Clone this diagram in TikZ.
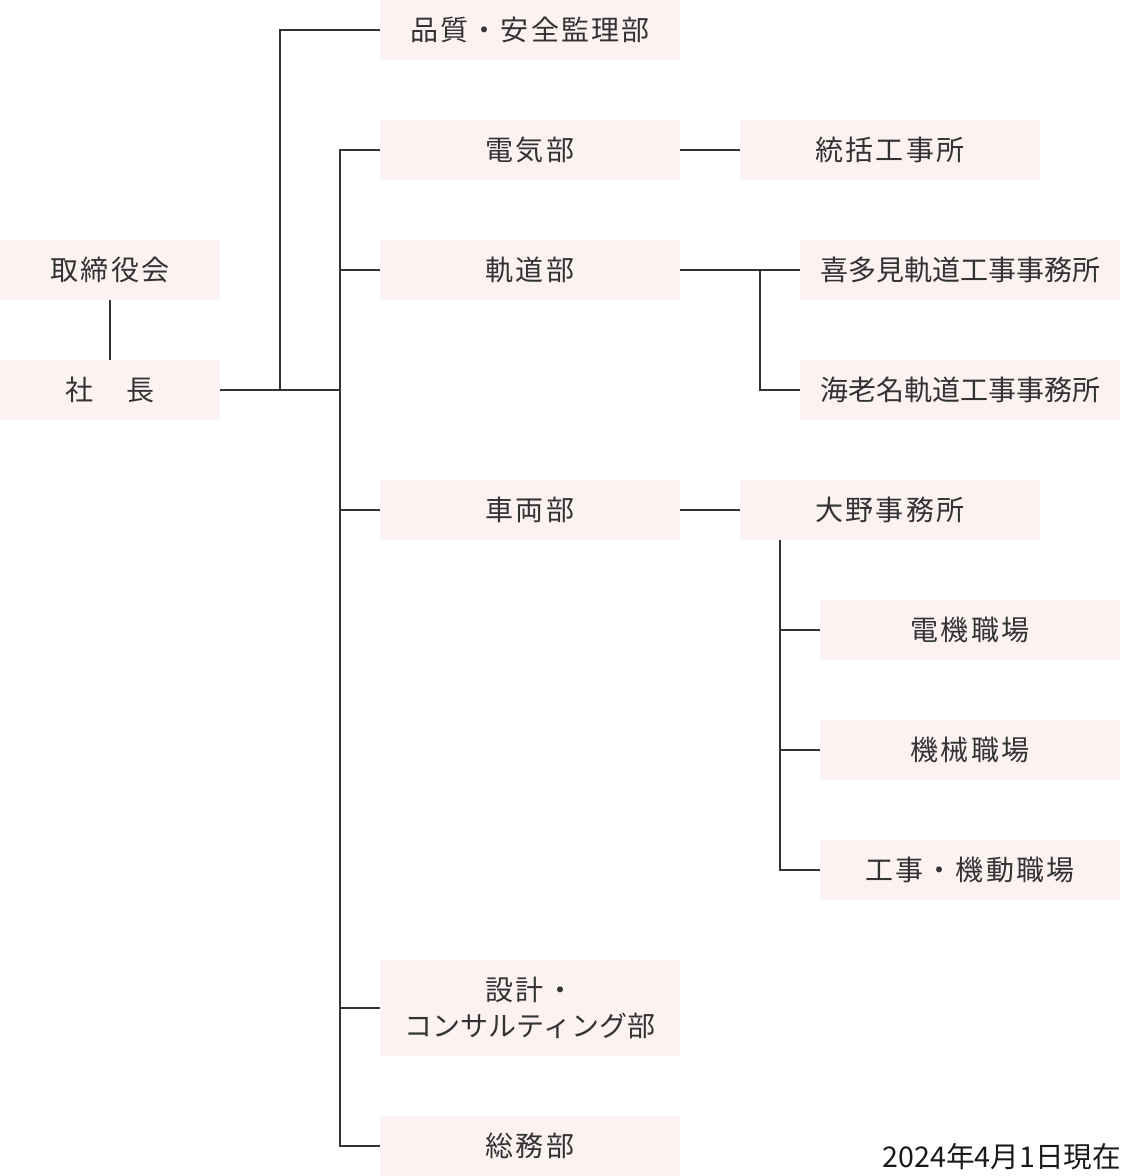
\documentclass[tikz,border=0pt]{standalone}
\usepackage{fontspec}
\setmainfont{Noto Sans CJK JP}
\newfontfamily\spacedjp[LetterSpace=8]{Noto Sans CJK JP}
\newfontfamily\datejp[RawFeature=+palt]{Noto Sans CJK JP}
\newfontfamily\plainjp{Noto Sans CJK JP}
\begin{document}
\begin{tikzpicture}[x=1pt,y=-1pt,
  orgbox/.style={fill=boxpink, inner sep=0pt, text=txtgray, font=\spacedjp\fontsize{28}{36}\selectfont, align=center, anchor=center, minimum width=300pt, minimum height=60pt},
  tightbox/.style={orgbox, font=\plainjp\fontsize{28}{36}\selectfont},
  link/.style={draw=lngray, line width=1.6pt}]
\definecolor{boxpink}{HTML}{FBF2F1}
\definecolor{txtgray}{HTML}{333333}
\definecolor{lngray}{HTML}{333333}
\definecolor{datecol}{HTML}{1A1A1A}
\useasboundingbox (0,0) rectangle (1122,1176);
% boxes
\node[orgbox, minimum width=220pt] (tori) at (110,270) {取締役会};
\node[orgbox, minimum width=220pt] (sha) at (110,390) {社　長};
\node[orgbox] (hin) at (530,30) {品質・安全監理部};
\node[orgbox] (den) at (530,150) {電気部};
\node[orgbox] (tok) at (890,150) {統括工事所};
\node[orgbox] (kid) at (530,270) {軌道部};
\node[tightbox, minimum width=320pt] (kit) at (960,270) {喜多見軌道工事事務所};
\node[tightbox, minimum width=320pt] (ebi) at (960,390) {海老名軌道工事事務所};
\node[orgbox] (sha2) at (530,510) {車両部};
\node[orgbox] (ono) at (890,510) {大野事務所};
\node[orgbox] (dki) at (970,630) {電機職場};
\node[orgbox] (kik) at (970,750) {機械職場};
\node[orgbox] (koj) at (970,870) {工事・機動職場};
\node[orgbox, minimum height=96pt] (sek) at (530,1008) {設計・\\{\plainjp コンサルティング部}};
\node[orgbox] (som) at (530,1146) {総務部};
\node[text=datecol, font=\datejp\fontsize{28.6}{32}\selectfont, anchor=base east, inner sep=0pt] (date) at (1121,1167) {2024年4月1日現在};
% junctions
\coordinate (ja) at (280,390);
\coordinate (jb) at (340,390);
\coordinate (jc) at (760,270);
\coordinate (jd) at (780,540);
% connectors
\draw[link] (tori.south) -- (sha.north);
\draw[link] (sha.east) -- (jb);
\draw[link] (ja) |- (hin.west);
\draw[link] (den.west) -| (jb |- som.west) -- (som.west);
\draw[link] (jb |- kid.west) -- (kid.west);
\draw[link] (jb |- sha2.west) -- (sha2.west);
\draw[link] (jb |- sek.west) -- (sek.west);
\draw[link] (den.east) -- (tok.west);
\draw[link] (kid.east) -- (kit.west);
\draw[link] (jc) |- (ebi.west);
\draw[link] (sha2.east) -- (ono.west);
\draw[link] (jd) |- (koj.west);
\draw[link] (jd |- dki.west) -- (dki.west);
\draw[link] (jd |- kik.west) -- (kik.west);
\end{tikzpicture}
\end{document}
